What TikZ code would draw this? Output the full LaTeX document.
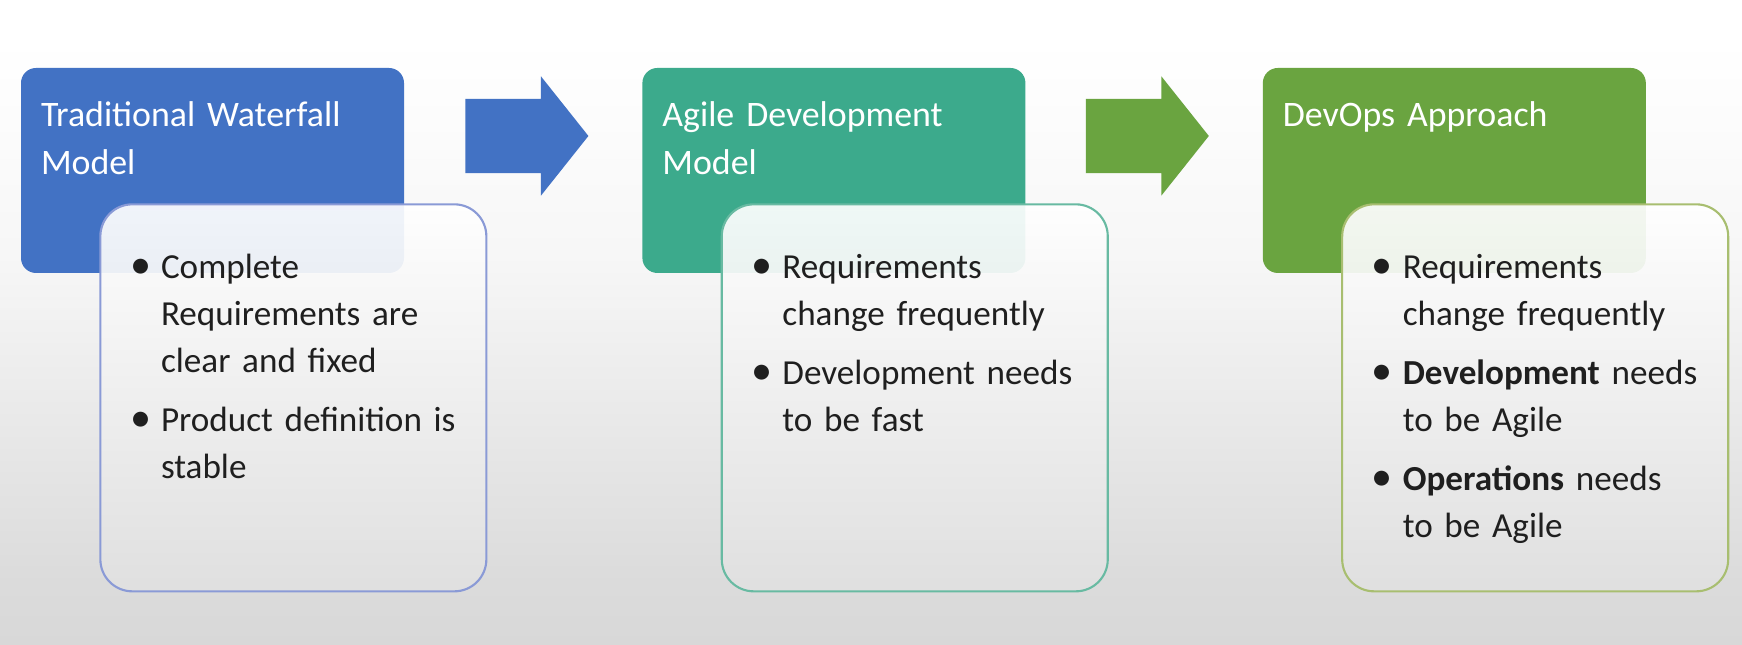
\documentclass[tikz,border=0pt]{standalone}
\usepackage{fontspec}
\setmainfont{Carlito}
\usepackage{tikz}
\usetikzlibrary{positioning, shapes.arrows}
\definecolor{wf-blue}{RGB}{66, 114, 196}
\definecolor{ag-teal}{RGB}{60, 170, 140}
\definecolor{do-green}{RGB}{106, 164, 64}
\definecolor{wf-line}{RGB}{138, 154, 214}
\definecolor{ag-line}{RGB}{104, 186, 162}
\definecolor{do-line}{RGB}{168, 190, 112}
\definecolor{bg-low}{RGB}{200, 200, 200}
\pgfdeclareverticalshading{backdrop}{100bp}{color(0bp)=(bg-low); color(30bp)=(bg-low!65!white);
  color(55bp)=(bg-low!15!white); color(72bp)=(white); color(100bp)=(white)}
\newcommand{\bpt}{\makebox[0.31cm][l]{\fontsize{12}{13.4}\selectfont\textbullet}}
\newcommand{\bcont}{\hspace*{0.31cm}}

\begin{document}
\begin{tikzpicture}[
    head/.style={rectangle, rounded corners=0.15cm, minimum width=3.83cm,
                 minimum height=2.05cm, inner sep=0pt},
    title/.style={text width=3.6cm, align=left, inner sep=0pt, text=white,
                  font=\fontsize{10.2}{13.7}\selectfont},
    body/.style={rectangle, rounded corners=0.32cm, minimum width=3.86cm,
                 minimum height=3.87cm, line width=0.6pt, top color=white,
                 bottom color=black!12, fill opacity=0.92, inner sep=0pt},
    pts/.style={text width=3.6cm, align=left, inner sep=0pt, text=black!88,
                font=\fontsize{10}{13.4}\selectfont},
    blk/.style={single arrow, minimum height=1.23cm, minimum width=1.18cm,
                single arrow head extend=0.225cm, single arrow tip angle=103,
                inner xsep=0pt, inner ysep=0.365cm}
  ]
    \useasboundingbox (0,0) rectangle (17.42,6.45);
    \shade[shading=backdrop] (0,0) rectangle (17.42,6.45);

    % headers
    \node[head, fill=wf-blue] (h1) at (2.125,4.745) {};
    \node[head, fill=ag-teal,  right=2.37cm of h1] (h2) {};
    \node[head, fill=do-green, right=2.36cm of h2] (h3) {};

    \node[title, anchor=base west] (t1) at ([shift={(0.20,-0.59)}]h1.north west) {Traditional Waterfall\\Model};
    \node[title, anchor=base west] (t2) at ([shift={(0.20,-0.59)}]h2.north west) {Agile Development\\Model};
    \node[title, anchor=base west] (t3) at ([shift={(0.20,-0.59)}]h3.north west) {DevOps Approach};

    % block arrows
    \node[blk, fill=wf-blue,  anchor=tail] (a1) at ([shift={(0.60,0.345)}]h1.east) {};
    \node[blk, fill=do-green, anchor=tail] (a2) at ([shift={(0.59,0.345)}]h2.east) {};

    % bodies
    \node[body, draw=wf-line, anchor=north west] (b1) at ([shift={(0.79,-1.36)}]h1.north west) {};
    \node[body, draw=ag-line, anchor=north west] (b2) at ([shift={(0.79,-1.36)}]h2.north west) {};
    \node[body, draw=do-line, anchor=north west] (b3) at ([shift={(0.79,-1.36)}]h3.north west) {};

    \node[pts, anchor=base west] (l1) at ([shift={(0.30,-0.75)}]b1.north west)
      {\bpt Complete\\\bcont Requirements are\\\bcont clear and fixed\\[0.12cm]
       \bpt Product definition is\\\bcont stable};
    \node[pts, anchor=base west] (l2) at ([shift={(0.30,-0.75)}]b2.north west)
      {\bpt Requirements\\\bcont change frequently\\[0.12cm]
       \bpt Development needs\\\bcont to be fast};
    \node[pts, anchor=base west] (l3) at ([shift={(0.30,-0.75)}]b3.north west)
      {\bpt Requirements\\\bcont change frequently\\[0.12cm]
       \bpt \textbf{Development} needs\\\bcont to be Agile\\[0.12cm]
       \bpt \textbf{Operations} needs\\\bcont to be Agile};
  \end{tikzpicture}
\end{document}
